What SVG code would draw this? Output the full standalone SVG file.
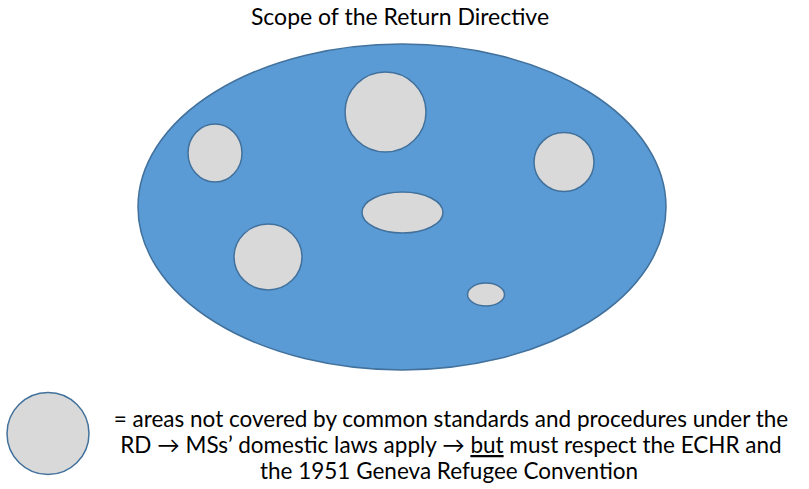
<svg xmlns="http://www.w3.org/2000/svg" width="809" height="489" viewBox="0 0 809 489">
<style>
.scope{fill:#5B9BD5;stroke:#41719C;stroke-width:1.5}
.hole{fill:#D9D9D9;stroke:#41719C;stroke-width:1.5}
text{font-family:Lato,"Open Sans","Liberation Sans",sans-serif;fill:#000;font-size:22.5px}
</style>
<rect width="809" height="489" fill="#fff"/>
<g id="title"><text x="400" y="25" text-anchor="middle" style="font-size:23px">Scope of the Return Directive</text></g>
<g id="scope"><ellipse class="scope" cx="402" cy="207" rx="264" ry="163"/></g>
<g id="area-top"><ellipse class="hole" cx="385.5" cy="112" rx="40.5" ry="40"/></g>
<g id="area-left"><ellipse class="hole" cx="215" cy="153" rx="27" ry="29"/></g>
<g id="area-right"><ellipse class="hole" cx="564" cy="162" rx="30" ry="29.5"/></g>
<g id="area-middle"><ellipse class="hole" cx="402.5" cy="212.5" rx="40.5" ry="20.5"/></g>
<g id="area-lower-left"><ellipse class="hole" cx="268" cy="257" rx="34" ry="33"/></g>
<g id="area-small"><ellipse class="hole" cx="486" cy="294.5" rx="18.5" ry="11.5"/></g>
<g id="connectors"></g>
<g id="legend">
<circle class="hole" cx="48" cy="433.5" r="41"/>
<text x="451" y="427" text-anchor="middle">= areas not covered by common standards and procedures under the</text>
<text x="451" y="453" text-anchor="middle">RD → MSs’ domestic laws apply → <tspan text-decoration="underline">but</tspan> must respect the ECHR and</text>
<text x="449" y="479" text-anchor="middle">the 1951 Geneva Refugee Convention</text>
</g>
</svg>
